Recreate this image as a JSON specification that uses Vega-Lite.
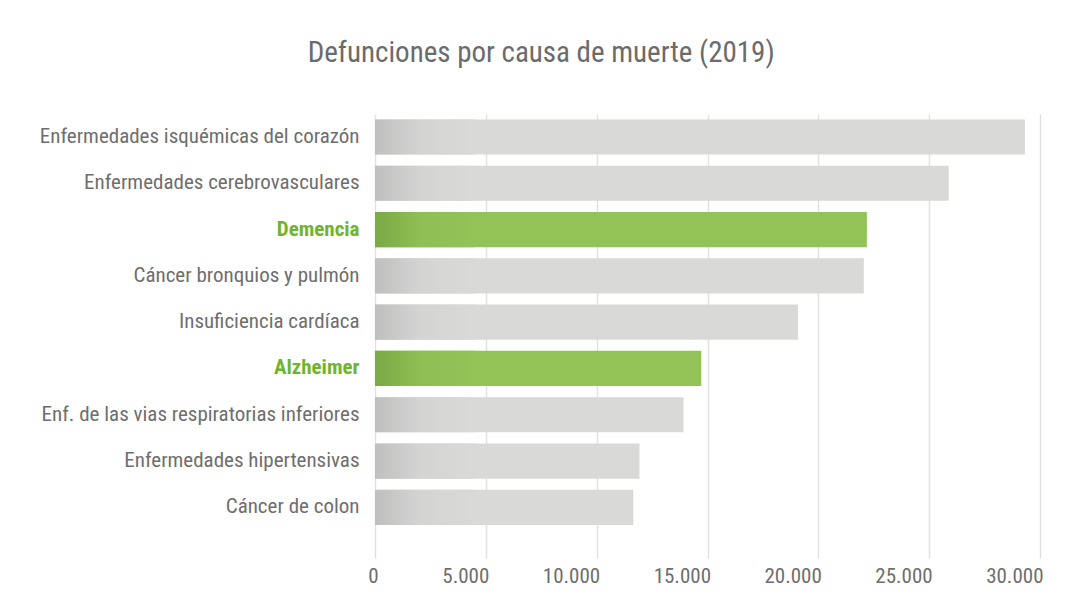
{
  "$schema": "https://vega.github.io/schema/vega-lite/v6.json",
  "width": 665,
  "height": 444,
  "autosize": {"type": "none"},
  "padding": {"left": 375, "top": 114, "right": 27, "bottom": 53},
  "background": "white",
  "config": {"view": {"stroke": null}},
  "title": {
    "text": "Defunciones por causa de muerte (2019)",
    "font": "Roboto Condensed, Liberation Sans Narrow, DejaVu Sans Condensed, sans-serif",
    "fontSize": 29,
    "fontWeight": "normal",
    "color": "#6b6b6b",
    "anchor": "middle",
    "frame": "bounds",
    "offset": 46
  },
  "data": {
    "values": [
      {"causa": "Enfermedades isquémicas del corazón", "defunciones": 29320, "grupo": "otras"},
      {"causa": "Enfermedades cerebrovasculares", "defunciones": 25880, "grupo": "otras"},
      {"causa": "Demencia", "defunciones": 22190, "grupo": "demencia"},
      {"causa": "Cáncer bronquios y pulmón", "defunciones": 22050, "grupo": "otras"},
      {"causa": "Insuficiencia cardíaca", "defunciones": 19080, "grupo": "otras"},
      {"causa": "Alzheimer", "defunciones": 14720, "grupo": "demencia"},
      {"causa": "Enf. de las vias respiratorias inferiores", "defunciones": 13920, "grupo": "otras"},
      {"causa": "Enfermedades hipertensivas", "defunciones": 11930, "grupo": "otras"},
      {"causa": "Cáncer de colon", "defunciones": 11650, "grupo": "otras"}
    ]
  },
  "encoding": {
    "y": {
      "field": "causa",
      "type": "nominal",
      "sort": null,
      "scale": {"paddingInner": 0.24, "paddingOuter": 0.415, "align": 0.14},
      "axis": {
        "title": null,
        "domain": false,
        "ticks": false,
        "grid": false,
        "labelPadding": 16,
        "labelLimit": 400,
        "labelFont": "Roboto Condensed, Liberation Sans Narrow, DejaVu Sans Condensed, sans-serif",
        "labelFontSize": 21,
        "labelColor": {"condition": {"test": "datum.value == 'Demencia' || datum.value == 'Alzheimer'", "value": "#6fb52c"}, "value": "#6e6e6e"},
        "labelFontWeight": {"condition": {"test": "datum.value == 'Demencia' || datum.value == 'Alzheimer'", "value": "bold"}, "value": "normal"}
      }
    }
  },
  "layer": [
    {
      "mark": {"type": "bar"},
      "encoding": {
        "x": {
          "field": "defunciones",
          "type": "quantitative",
          "scale": {"domain": [0, 30000], "nice": false},
          "axis": {
            "title": null,
            "domain": false,
            "ticks": false,
            "grid": true,
            "gridColor": "#e2e2e2",
            "gridWidth": 1.5,
            "values": [0, 5000, 10000, 15000, 20000, 25000, 30000],
            "labelExpr": "replace(format(datum.value, ','), ',', '.')",
            "labelFlush": false,
            "labelAlign": "right",
            "labelOffset": 3,
            "labelFont": "Roboto Condensed, Liberation Sans Narrow, DejaVu Sans Condensed, sans-serif",
            "labelFontSize": 21,
            "labelColor": "#6e6e6e",
            "labelPadding": 7
          }
        },
        "color": {
          "field": "grupo",
          "type": "nominal",
          "scale": {"domain": ["otras", "demencia"], "range": ["#d9d9d7", "#93c357"]},
          "legend": null
        }
      }
    },
    {
      "transform": [{"filter": "datum.grupo == 'otras'"}],
      "mark": {
        "type": "bar",
        "color": {
          "gradient": "linear",
          "x1": 0, "x2": 1, "y1": 0, "y2": 0,
          "stops": [
            {"offset": 0, "color": "#bfbfbf"},
            {"offset": 0.45, "color": "#d4d4d3"},
            {"offset": 1, "color": "#d9d9d7"}
          ]
        }
      },
      "encoding": {
        "x": {"datum": 0, "type": "quantitative"},
        "x2": {"datum": 4500}
      }
    },
    {
      "transform": [{"filter": "datum.grupo == 'demencia'"}],
      "mark": {
        "type": "bar",
        "color": {
          "gradient": "linear",
          "x1": 0, "x2": 1, "y1": 0, "y2": 0,
          "stops": [
            {"offset": 0, "color": "#7aa945"},
            {"offset": 0.45, "color": "#8fbf54"},
            {"offset": 1, "color": "#93c357"}
          ]
        }
      },
      "encoding": {
        "x": {"datum": 0, "type": "quantitative"},
        "x2": {"datum": 4500}
      }
    }
  ]
}
